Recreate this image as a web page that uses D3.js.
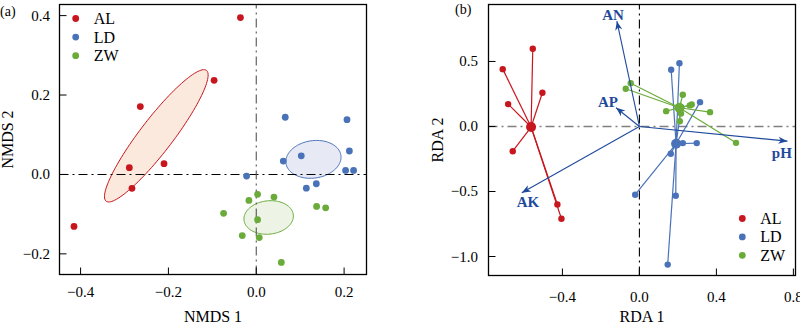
<!DOCTYPE html>
<html><head><meta charset="utf-8">
<script src="https://cdn.jsdelivr.net/npm/d3@7"></script>
<style>body{margin:0;background:#fff}svg{display:block}text{font-family:"Liberation Serif","Times New Roman",serif}</style>
</head><body><svg id="c" width="800" height="324"></svg>
<script>
// ---------- data ----------
const groups = ["AL", "LD", "ZW"];
const groupColors = ["#C8161E", "#4A72B8", "#6AAB3A"];
const ellipseFills = ["#FBE9DE", "#E7E9F5", "#EDF4E6"];

// Panel (a) NMDS
const nmdsAL_x = [-0.036, -0.096, -0.264, -0.289, -0.210, -0.283, -0.415];
const nmdsAL_y = [0.395, 0.237, 0.171, 0.017, 0.027, -0.035, -0.131];
const nmdsLD_x = [0.066, 0.2066, 0.212, 0.1025, 0.0615, 0.2034, 0.2216, -0.022, 0.114, 0.1367];
const nmdsLD_y = [0.144, 0.138, 0.059, 0.047, 0.0336, 0.010, 0.010, -0.004, -0.0345, -0.0235];
const nmdsZW_x = [0.003, -0.0167, 0.0403, -0.0744, 0.003, -0.0319, 0.0068, 0.057, 0.1374, 0.158];
const nmdsZW_y = [-0.050, -0.0655, -0.057, -0.098, -0.114, -0.154, -0.159, -0.2217, -0.0806, -0.084];
const nmdsXTicks = [-0.4, -0.2, 0.0, 0.2];
const nmdsYTicks = [-0.2, 0.0, 0.2, 0.4];

// Panel (b) RDA
const rdaAL_x = [-0.554, -0.710, -0.504, -0.682, -0.658, -0.426, -0.405];
const rdaAL_y = [0.598, 0.441, 0.259, 0.172, -0.190, -0.600, -0.710];
const rdaLD_x = [0.208, 0.165, 0.315, 0.2255, 0.298, 0.163, -0.022, 0.189, 0.147, 0.2175];
const rdaLD_y = [0.487, 0.436, 0.187, -0.128, -0.128, -0.210, -0.525, -0.533, -1.062, 0.146];
const rdaZW_x = [-0.045, -0.071, 0.2255, 0.272, 0.139, 0.367, 0.502, 0.262, 0.21, 0.216];
const rdaZW_y = [0.333, 0.290, 0.244, 0.169, 0.118, 0.110, -0.126, 0.162, 0.04, 0.10];
const envNames = ["AN", "AP", "pH", "AK"];
const envX = [-0.117, -0.121, 0.769, -0.611];
const envY = [0.81, 0.144, -0.113, -0.510];
const envLabX = [-0.137, -0.163, 0.740, -0.579];
const envLabY = [0.858, 0.188, -0.204, -0.581];
const rdaXTicks = [-0.4, 0.0, 0.4, 0.8];
const rdaYTicks = [-1.0, -0.5, 0.0, 0.5];

// ---------- drawing ----------
const svg = d3.select("#c");
const fmt = v => d3.format(".1f")(v).replace("-", "\u2212");
const mean = a => d3.mean(a);

function frame(g, x, y, xt, yt, xLabY, yLabX, xTitle, yTitle, yTitleX) {
  const [x0, x1] = x.range(), [y0, y1] = y.range();
  g.append("rect").attr("x", x0).attr("y", y1).attr("width", x1 - x0).attr("height", y0 - y1)
    .attr("fill", "none").attr("stroke", "#000").attr("stroke-width", 1.3);
  xt.forEach(t => {
    g.append("line").attr("x1", x(t)).attr("x2", x(t)).attr("y1", y0).attr("y2", y0 - 7).attr("stroke", "#000");
    g.append("text").attr("x", x(t)).attr("y", xLabY).attr("text-anchor", "middle").attr("font-size", 15).text(fmt(t));
  });
  yt.forEach(t => {
    g.append("line").attr("x1", x0).attr("x2", x0 + 7).attr("y1", y(t)).attr("y2", y(t)).attr("stroke", "#000");
    g.append("text").attr("x", yLabX).attr("y", y(t)).attr("text-anchor", "end").attr("dominant-baseline", "central").attr("font-size", 15).text(fmt(t));
  });
  g.append("text").attr("x", (x0 + x1) / 2).attr("y", 322).attr("text-anchor", "middle").attr("font-size", 16).text(xTitle);
  g.append("text").attr("transform", `translate(${yTitleX},${(y0 + y1) / 2}) rotate(-90)`).attr("text-anchor", "middle").attr("font-size", 16).text(yTitle);
}

function legend(g, lx, ly, step) {
  groups.forEach((k, i) => {
    g.append("circle").attr("cx", lx).attr("cy", ly + i * step).attr("r", 3.4).attr("fill", groupColors[i]);
    g.append("text").attr("x", lx + 18).attr("y", ly + i * step).attr("dominant-baseline", "central").attr("font-size", 16).text(k);
  });
}

function seEllipse(xs, ys) {
  const n = xs.length, mx = mean(xs), my = mean(ys);
  let sxx = 0, syy = 0, sxy = 0;
  for (let i = 0; i < n; i++) { const dx = xs[i] - mx, dy = ys[i] - my; sxx += dx * dx; syy += dy * dy; sxy += dx * dy; }
  const f = 1 / ((n - 1) * n);
  const vxx = sxx * f, vyy = syy * f, vxy = sxy * f;
  const tr = (vxx + vyy) / 2, dd = Math.sqrt((vxx - vyy) ** 2 / 4 + vxy * vxy);
  const l1 = tr + dd, l2 = Math.max(tr - dd, 0);
  const th = 0.5 * Math.atan2(2 * vxy, vxx - vyy);
  const sc = Math.sqrt(5.991465);
  const a = Math.sqrt(l1) * sc, b = Math.sqrt(l2) * sc;
  return d3.range(0, 120).map(k => {
    const t = 2 * Math.PI * k / 120;
    const u = a * Math.cos(t), v = b * Math.sin(t);
    return [mx + u * Math.cos(th) - v * Math.sin(th), my + u * Math.sin(th) + v * Math.cos(th)];
  });
}

// ----- Panel (a) -----
{
  const x = d3.scaleLinear().domain([-0.448, 0.251]).range([59.5, 366.5]);
  const y = d3.scaleLinear().domain([-0.252, 0.428]).range([274.5, 4.5]);
  const g = svg.append("g");
  const sets = [[nmdsAL_x, nmdsAL_y], [nmdsLD_x, nmdsLD_y], [nmdsZW_x, nmdsZW_y]];
  const line = d3.line().x(d => x(d[0])).y(d => y(d[1])).curve(d3.curveLinearClosed);
  sets.forEach((s, i) => {
    g.append("path").attr("d", line(seEllipse(s[0], s[1]))).attr("fill", ellipseFills[i])
      .attr("stroke", groupColors[i]).attr("stroke-width", 1);
  });
  g.append("line").attr("x1", x.range()[0]).attr("x2", x.range()[1]).attr("y1", y(0)).attr("y2", y(0))
    .attr("stroke", "#000").attr("stroke-width", 1.1).attr("stroke-dasharray", "9,4,2,4");
  g.append("line").attr("x1", x(0)).attr("x2", x(0)).attr("y1", y.range()[0]).attr("y2", y.range()[1])
    .attr("stroke", "#555").attr("stroke-width", 1.1).attr("stroke-dasharray", "9,4,2,4");
  sets.forEach((s, i) => {
    s[0].forEach((v, j) => g.append("circle").attr("cx", x(v)).attr("cy", y(s[1][j])).attr("r", 3.4).attr("fill", groupColors[i]));
  });
  frame(g, x, y, nmdsXTicks, nmdsYTicks, 296.5, 50, "NMDS 1", "NMDS 2", 12.5);
  legend(g, 75.7, 18.5, 18.6);
  g.append("text").attr("x", 0).attr("y", 16).attr("font-size", 14).text("(a)");
}

// ----- Panel (b) -----
{
  const x = d3.scaleLinear().domain([-0.784, 0.811]).range([488.5, 795.5]);
  const y = d3.scaleLinear().domain([-1.146, 0.938]).range([275.5, 4.5]);
  const g = svg.append("g");
  const sets = [[rdaAL_x, rdaAL_y], [rdaLD_x, rdaLD_y], [rdaZW_x, rdaZW_y]];
  g.append("line").attr("x1", x.range()[0]).attr("x2", x.range()[1]).attr("y1", y(0)).attr("y2", y(0))
    .attr("stroke", "#808080").attr("stroke-width", 1.6).attr("stroke-dasharray", "9,4,2,4");
  g.append("line").attr("x1", x(0)).attr("x2", x(0)).attr("y1", y.range()[0]).attr("y2", y.range()[1])
    .attr("stroke", "#000").attr("stroke-width", 1.1).attr("stroke-dasharray", "9,4,2,4");
  sets.forEach((s, i) => {
    const cx = mean(s[0]), cy = mean(s[1]);
    s[0].forEach((v, j) => g.append("line").attr("x1", x(cx)).attr("y1", y(cy)).attr("x2", x(v)).attr("y2", y(s[1][j]))
      .attr("stroke", groupColors[i]).attr("stroke-width", 1.2));
    s[0].forEach((v, j) => g.append("circle").attr("cx", x(v)).attr("cy", y(s[1][j])).attr("r", 3.2).attr("fill", groupColors[i]));
    g.append("circle").attr("cx", x(cx)).attr("cy", y(cy)).attr("r", 5).attr("fill", groupColors[i]);
  });
  const arrowCol = "#1F4A9C";
  svg.append("defs").append("marker").attr("id", "ah").attr("viewBox", "-10 -5 12 10").attr("refX", 0).attr("refY", 0)
    .attr("markerWidth", 12).attr("markerHeight", 10).attr("markerUnits", "userSpaceOnUse").attr("orient", "auto")
    .append("path").attr("d", "M0,0 L-9,-3.6 L-6.5,0 L-9,3.6 Z").attr("fill", arrowCol);
  envNames.forEach((nm, i) => {
    g.append("line").attr("x1", x(0)).attr("y1", y(0)).attr("x2", x(envX[i])).attr("y2", y(envY[i]))
      .attr("stroke", arrowCol).attr("stroke-width", 1.1).attr("marker-end", "url(#ah)");
    g.append("text").attr("x", x(envLabX[i])).attr("y", y(envLabY[i])).attr("text-anchor", "middle")
      .attr("dominant-baseline", "central").attr("font-size", 15).attr("font-weight", "bold").attr("fill", arrowCol).text(nm);
  });
  frame(g, x, y, rdaXTicks, rdaYTicks, 301.5, 478, "RDA 1", "RDA 2", 443);
  legend(g, 742.3, 218.5, 18.4);
  g.append("text").attr("x", 455).attr("y", 14).attr("font-size", 14).text("(b)");
}
</script></body></html>
